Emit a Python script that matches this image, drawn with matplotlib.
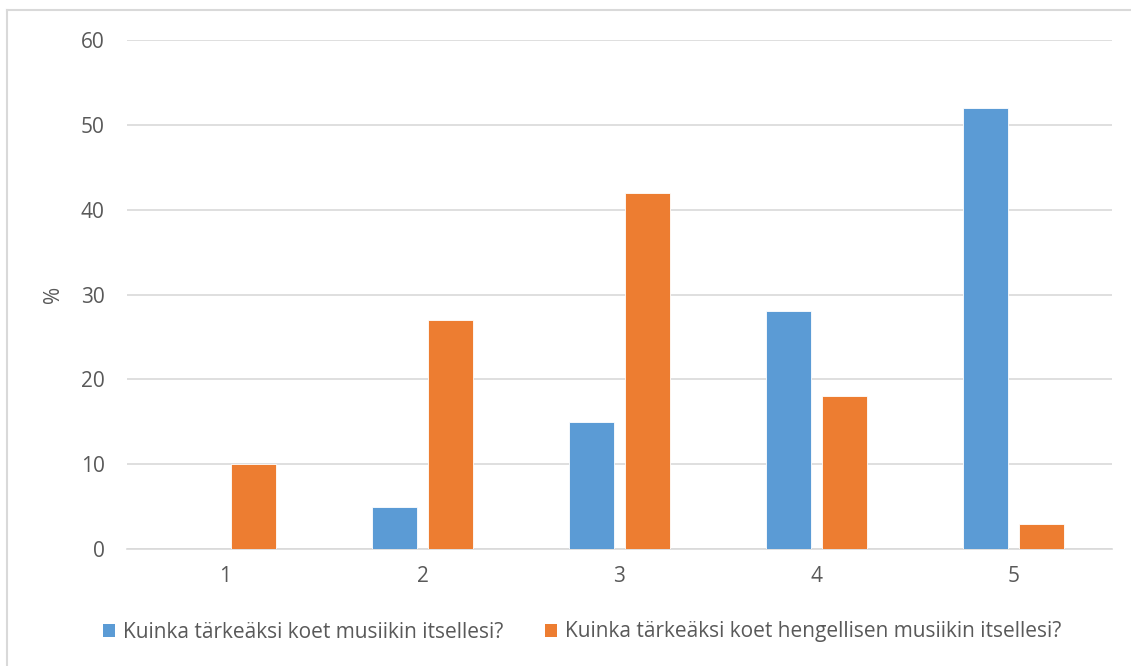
import matplotlib
matplotlib.use('Agg')
import matplotlib.pyplot as plt
from matplotlib.lines import Line2D
from matplotlib.patches import Patch
import numpy as np

categories = ['1', '2', '3', '4', '5']
music = [0, 5, 15, 28, 52]
spiritual = [10, 27, 42, 18, 3]
series_names = ['Kuinka tärkeäksi koet musiikin itsellesi?',
                'Kuinka tärkeäksi koet hengellisen musiikin itsellesi?']

BLUE = '#5B9BD5'
ORANGE = '#ED7D31'
TEXT = '#595959'
GRID = '#D9D9D9'

plt.rcParams['font.family'] = ['Open Sans', 'DejaVu Sans']

W, H = 1131, 666
fig = plt.figure(figsize=(W / 100, H / 100), dpi=100)
ax = fig.add_axes([127 / W, 1 - 549 / H, (1112 - 127) / W, (549 - 40) / H])

x = np.arange(len(categories))
bw = 0.225
gap = 0.06
ax.bar(x - (bw + gap) / 2, music, bw, color=BLUE, edgecolor='white', linewidth=0.6, zorder=3)
ax.bar(x + (bw + gap) / 2, spiritual, bw, color=ORANGE, edgecolor='white', linewidth=0.6, zorder=3)

ax.set_xlim(-0.5, len(categories) - 0.5)
ax.set_ylim(0, 60)
ax.set_yticks(range(0, 61, 10))
ax.set_xticks(x)
ax.set_xticklabels(categories)
ax.yaxis.grid(True, color=GRID, linewidth=1.2, zorder=0)
ax.set_axisbelow(True)
for s in ['top', 'right', 'left']:
    ax.spines[s].set_visible(False)
ax.spines['bottom'].set_color(GRID)
ax.spines['bottom'].set_linewidth(1.2)
ax.tick_params(length=0, labelsize=15, colors=TEXT)
ax.tick_params(axis='y', pad=16)
ax.tick_params(axis='x', pad=12)
ax.set_ylabel('%', fontsize=15, color=TEXT, labelpad=12)

handles = [Patch(facecolor=BLUE), Patch(facecolor=ORANGE)]
fig.legend(handles, series_names, loc='center', bbox_to_anchor=(582 / W, 1 - 632 / H),
           ncol=2, frameon=False, fontsize=15, labelcolor=TEXT,
           handlelength=0.6, handleheight=0.6, handletextpad=0.35, columnspacing=2.0)

# chart area border (left and top visible)
fig.add_artist(Line2D([7 / W, 7 / W], [0, 1 - 10 / H], color=GRID, linewidth=1.5))
fig.add_artist(Line2D([7 / W, 1], [1 - 10 / H, 1 - 10 / H], color=GRID, linewidth=1.5))

fig.savefig('out.png', dpi=100)
